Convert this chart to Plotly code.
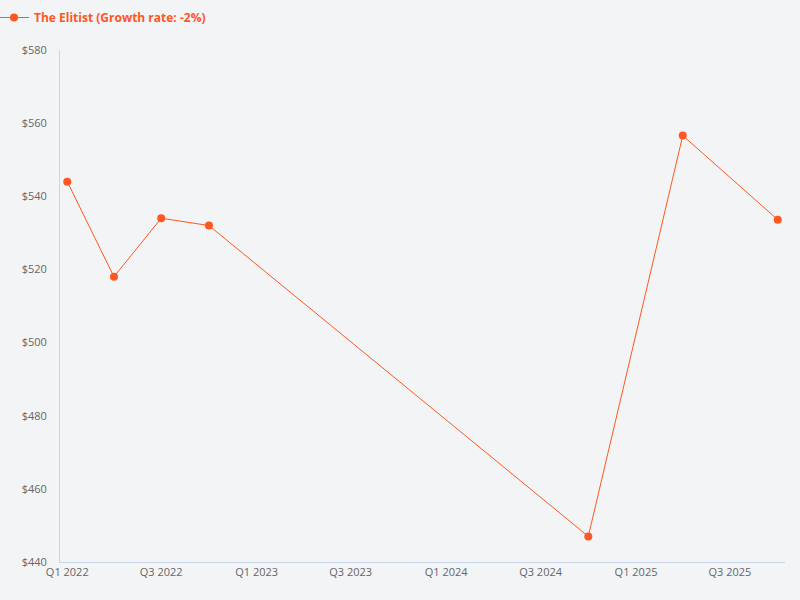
import plotly.graph_objects as go

# quarterly observations (missing quarters simply not reported)
dates = ["2022-01-01", "2022-04-01", "2022-07-01", "2022-10-01",
         "2024-10-01", "2025-04-01", "2025-10-01"]
prices = [544, 518, 534, 532, 447, 556.6, 533.6]

tick_dates = ["2022-01-01", "2022-07-01", "2023-01-01", "2023-07-01",
              "2024-01-01", "2024-07-01", "2025-01-01", "2025-07-01"]
tick_labels = ["Q1 2022", "Q3 2022", "Q1 2023", "Q3 2023",
               "Q1 2024", "Q3 2024", "Q1 2025", "Q3 2025"]

y_ticks = [440, 460, 480, 500, 520, 540, 560, 580]
y_labels = ["$440", "$460", "$480", "$500", "$520", "$540", "$560", "$580"]

orange = "#FF5722"
axis_col = "#C9D5E8"

fig = go.Figure(go.Scatter(
    x=dates,
    y=prices,
    mode="lines+markers",
    name="The Elitist (Growth rate: -2%)",
    line=dict(color=orange, width=1),
    marker=dict(color=orange, size=8),
))

fig.update_layout(
    width=800,
    height=600,
    paper_bgcolor="#F3F4F6",
    plot_bgcolor="#F3F4F6",
    font=dict(family="Open Sans", size=11, color="#666666"),
    margin=dict(l=60, r=15, t=50, b=38, autoexpand=False),
    showlegend=True,
    legend=dict(
        xref="container", yref="container",
        x=0, y=0.995, xanchor="left", yanchor="top",
        font=dict(color=orange, size=12, family="Open Sans", weight="bold"),
        bgcolor="rgba(0,0,0,0)",
        itemwidth=30,
        indentation=-6,
    ),
    xaxis=dict(
        type="date",
        range=["2021-12-18", "2025-10-15"],
        tickvals=tick_dates,
        ticktext=tick_labels,
        showgrid=False,
        zeroline=False,
        showline=True,
        linecolor=axis_col,
        linewidth=1,
        ticks="",
        tickfont=dict(size=11, color="#666666"),
    ),
    yaxis=dict(
        range=[440, 580],
        tickvals=y_ticks,
        ticktext=y_labels,
        showgrid=False,
        zeroline=False,
        showline=True,
        linecolor=axis_col,
        linewidth=1,
        ticks="",
        ticklabelstandoff=10,
        tickfont=dict(size=11, color="#666666"),
    ),
)

# drop the default body margin so the 800x600 figure fills the window
fig.write_html("out.html", config={"displayModeBar": False},
               post_script="document.body.style.margin = '0';")
